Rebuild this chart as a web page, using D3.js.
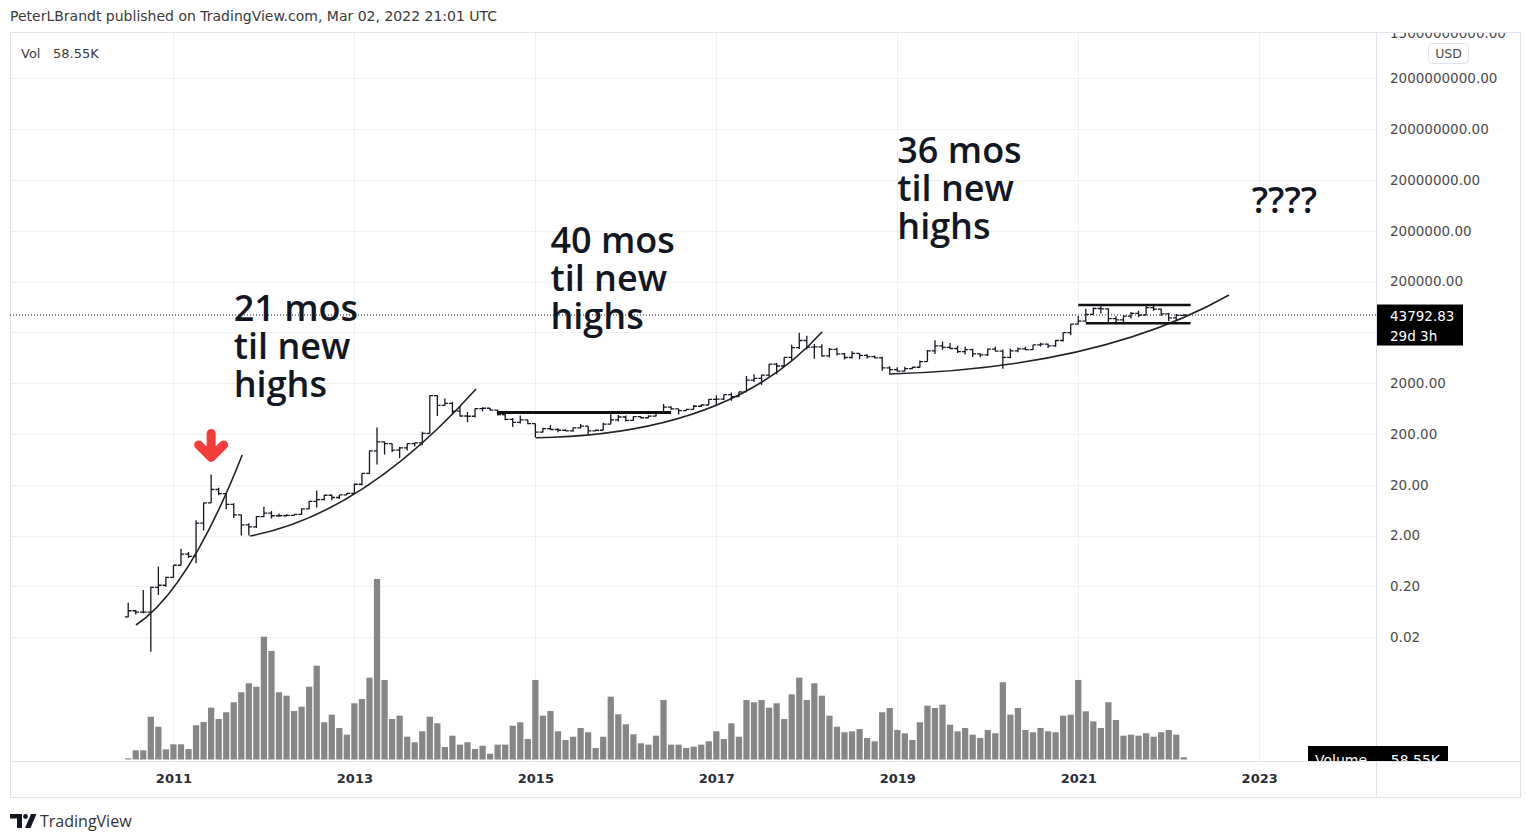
<!DOCTYPE html>
<html>
<head>
<meta charset="utf-8">
<script src="https://cdn.jsdelivr.net/npm/d3@7"></script>
<style>
  html, body { margin: 0; padding: 0; background: #fff; }
  svg { display: block; }
</style>
</head>
<body>
<svg id="chart" width="1526" height="838"></svg>
<script>
// monthly bars, index 0 = Jul 2010 ... index 140 = Mar 2022
const opens = [
  0.05, 0.066, 0.062, 0.062, 0.19, 0.21,
  0.30, 0.52, 0.86, 0.78, 3.5, 8.74, 16.1, 13.4, 8.2, 5.1, 3.25, 2.97,
  4.7, 5.5, 4.9, 4.9, 5.0, 5.2, 6.7, 9.4, 10.2, 12.4, 11.2, 12.6,
  13.5, 20.4, 33.4, 93, 139, 129, 96, 106, 129, 133, 204, 1130,
  730, 800, 560, 450, 445, 630, 640, 590, 480, 388, 338, 378,
  320, 217, 254, 244, 236, 230, 263, 284, 230, 236, 313, 377,
  430, 368, 437, 416, 448, 531, 673, 624, 575, 608, 700, 742,
  960, 970, 1190, 1080, 1350, 2300, 2480, 2870, 4730, 4340, 6450, 9950,
  13800, 10200, 10300, 6900, 9250, 7500, 6390, 7730, 7030, 6630, 6300, 4000,
  3700, 3450, 3850, 4100, 5300, 8600, 10800, 10100, 9600, 8300, 9150, 7550,
  7200, 9350, 8550, 6420, 8650, 9450, 9140, 11350, 11660, 10780, 13800, 19700,
  29000, 33100, 45200, 58800, 57700, 37300, 35000, 41500, 47100, 43800, 61300, 57000,
  46200, 38500, 43200
];
const highs = [
  0.095, 0.068, 0.17, 0.196, 0.49, 0.31,
  0.52, 1.10, 0.95, 4.0, 8.9, 31.9, 17.5, 13.9, 8.6, 5.2, 3.5, 4.8,
  7.4, 6.1, 5.4, 5.3, 5.2, 6.9, 9.7, 15.4, 12.5, 12.8, 12.6, 13.7,
  21.2, 33.5, 94, 266, 141, 130, 110, 130, 136, 220, 1150, 1160,
  1000, 860, 700, 540, 630, 670, 650, 600, 490, 410, 460, 380,
  320, 265, 300, 260, 246, 268, 315, 285, 245, 330, 500, 470,
  462, 446, 440, 467, 550, 780, 700, 627, 610, 740, 755, 975,
  1150, 1200, 1300, 1350, 2760, 2980, 2950, 4750, 4980, 6450, 11400, 19700,
  17200, 11800, 11700, 9800, 9950, 7800, 8500, 7760, 7400, 7000, 6600, 4300,
  4100, 4200, 4150, 5600, 9000, 13900, 13200, 12300, 10900, 10400, 9500, 7750,
  9600, 10500, 9200, 9450, 10070, 10400, 11440, 12470, 12080, 14100, 19900, 29300,
  41950, 58300, 61800, 64900, 59600, 41300, 42400, 50500, 52900, 67000, 69000, 59000,
  47900, 45800, 44900
];
const lows = [
  0.049, 0.056, 0.059, 0.0103, 0.135, 0.196,
  0.29, 0.52, 0.72, 0.57, 2.5, 8.7, 12.4, 6.6, 4.4, 2.0, 2.0, 2.8,
  4.6, 4.3, 4.7, 4.8, 4.9, 5.1, 6.6, 7.1, 9.8, 9.9, 10.5, 12.5,
  13.3, 19.6, 33, 50, 79, 88, 67, 94, 113, 120, 204, 450,
  720, 500, 440, 340, 420, 560, 570, 460, 370, 275, 320, 310,
  170, 212, 240, 215, 228, 220, 255, 200, 225, 235, 310, 350,
  350, 365, 400, 414, 440, 520, 600, 480, 565, 605, 680, 740,
  750, 930, 900, 1060, 1350, 2100, 1830, 2690, 2980, 4150, 5500, 9400,
  9200, 6000, 6600, 6400, 7000, 5800, 6100, 5880, 6100, 6200, 3500, 3150,
  3350, 3400, 3800, 4050, 5300, 7500, 9100, 9400, 7800, 7300, 6550, 6430,
  6850, 8450, 3850, 6150, 8100, 8900, 8970, 10550, 9820, 10370, 13200, 17600,
  28800, 32300, 44900, 47000, 30000, 28800, 29300, 37300, 39600, 43300, 53300, 42000,
  33000, 34300, 43000
];
const closes = [
  0.066, 0.062, 0.062, 0.19, 0.21, 0.30,
  0.52, 0.86, 0.78, 3.5, 8.74, 16.1, 13.4, 8.2, 5.1, 3.25, 2.97, 4.7,
  5.5, 4.9, 4.9, 5.0, 5.2, 6.7, 9.4, 10.2, 12.4, 11.2, 12.6, 13.5,
  20.4, 33.4, 93, 139, 129, 96, 106, 129, 133, 204, 1130, 730,
  800, 560, 450, 445, 630, 640, 590, 480, 388, 338, 378, 320,
  217, 254, 244, 236, 230, 263, 284, 230, 236, 313, 377, 430,
  368, 437, 416, 448, 531, 673, 624, 575, 608, 700, 742, 960,
  970, 1190, 1080, 1350, 2300, 2480, 2870, 4730, 4340, 6450, 9950, 13800,
  10200, 10300, 6900, 9250, 7500, 6390, 7730, 7030, 6630, 6300, 4000, 3700,
  3450, 3850, 4100, 5300, 8600, 10800, 10100, 9600, 8300, 9150, 7550, 7200,
  9350, 8550, 6420, 8650, 9450, 9140, 11350, 11660, 10780, 13800, 19700, 29000,
  33100, 45200, 58800, 57700, 37300, 35000, 41500, 47100, 43800, 61300, 57000, 46200,
  38500, 43200, 43792.83
];
// volume in thousands
const volumes = [
  32, 245, 245, 1138, 872, 271,
  404, 404, 279, 910, 998, 1378, 1077, 1256, 1522, 1788, 2027, 1936,
  3266, 2886, 1788, 1697, 1290, 1404, 1936, 2495, 990, 1192, 838, 660,
  1495, 1609, 2176, 4801, 2115, 1077, 1165, 606, 458, 750, 1138, 963,
  333, 633, 394, 458, 279, 367, 154, 394, 394, 899, 990, 545,
  2115, 1165, 1290, 750, 519, 606, 838, 724, 306, 606, 1670, 1202,
  936, 670, 431, 394, 633, 1583, 394, 394, 306, 340, 394, 484,
  750, 545, 963, 606, 1583, 1522, 1583, 1378, 1495, 1077, 1734, 2176,
  1583, 2027, 1697, 1165, 872, 724, 750, 811, 572, 484, 1256, 1370,
  785, 697, 519, 990, 1431, 1370, 1458, 926, 750, 838, 660, 572,
  785, 697, 2054, 1192, 1370, 785, 724, 838, 750, 724, 1165, 1192,
  2115, 1282, 1016, 838, 1522, 1051, 633, 660, 633, 697, 606, 724,
  785, 660, 58.55
];

const yearLabels = [2011, 2013, 2015, 2017, 2019, 2021, 2023];
const priceTicks = [0.02, 0.2, 2, 20, 200, 2000, 20000, 200000, 2000000, 20000000, 200000000, 2000000000];
const topCutTick = 15000000000;
const lastPrice = 43792.83;

// drawn annotations: [month index, price]
const arcs = [
  [[1.03, 0.0346], [8.06, 0.169], [15.12, 76.9]],
  [[16.15, 1.95], [31.17, 5.18], [46.13, 1531]],
  [[54.08, 168.3], [79.81, 190], [92.04, 20560]],
  [[100.9, 3020], [128.9, 3965], [146.0, 108400]]
];
const levels = [
  {from: 48.9, to: 72.0, price: 530, w: 3},
  {from: 126.0, to: 140.9, price: 69000, w: 2.5},
  {from: 127.0, to: 140.9, price: 30000, w: 2.5}
];
const notes = [
  {idx: 14, price: 33400, lines: ["21 mos", "til new", "highs"]},
  {idx: 56, price: 728000, lines: ["40 mos", "til new", "highs"]},
  {idx: 102, price: 4.3e7, lines: ["36 mos", "til new", "highs"]},
  {idx: 149, price: 4.46e6, lines: ["????"]}
];
const arrowMonth = 11; // Jun 2011 top

const PANE = {left: 10, right: 1376, top: 33, bottom: 761};
const FRAME = {left: 10, right: 1520, top: 32, bottom: 797};
const AXIS_FONT = "'DejaVu Sans', sans-serif";

const svg = d3.select("#chart");

const x = d3.scaleLinear().domain([0, 140]).range([128.2, 1183.8]);
const y = d3.scaleLog().domain([7.28e-5, 1.56e10]).range([PANE.bottom, PANE.top]);
const yVol = d3.scaleLinear().domain([0, 4800]).range([759.5, 579]);
const yearIdx = yr => (yr - 2010) * 12 - 6;

// header
svg.append("text")
  .attr("x", 10).attr("y", 21)
  .attr("font-family", AXIS_FONT).attr("font-size", "14px").attr("fill", "#3a3a3a")
  .text("PeterLBrandt published on TradingView.com, Mar 02, 2022 21:01 UTC");

// grid
const grid = svg.append("g").attr("stroke", "#eef0f4").attr("stroke-width", 1);
grid.selectAll("line.h").data(priceTicks).join("line")
  .attr("x1", PANE.left).attr("x2", PANE.right)
  .attr("y1", d => Math.round(y(d)) + 0.5).attr("y2", d => Math.round(y(d)) + 0.5);
grid.selectAll("line.v").data(yearLabels).join("line")
  .attr("x1", d => Math.round(x(yearIdx(d))) + 0.5).attr("x2", d => Math.round(x(yearIdx(d))) + 0.5)
  .attr("y1", PANE.top).attr("y2", PANE.bottom);

// frame
const frame = svg.append("g").attr("stroke", "#e0e3eb").attr("fill", "none");
frame.append("rect")
  .attr("x", FRAME.left + 0.5).attr("y", FRAME.top + 0.5)
  .attr("width", FRAME.right - FRAME.left).attr("height", FRAME.bottom - FRAME.top);
frame.append("line").attr("x1", PANE.right + 0.5).attr("x2", PANE.right + 0.5)
  .attr("y1", FRAME.top).attr("y2", FRAME.bottom);
frame.append("line").attr("x1", FRAME.left).attr("x2", FRAME.right)
  .attr("y1", PANE.bottom + 0.5).attr("y2", PANE.bottom + 0.5);

// volume
const barW = (x(1) - x(0)) * 0.83;
svg.append("g").selectAll("rect").data(volumes).join("rect")
  .attr("x", (d, i) => x(i) - barW / 2)
  .attr("y", d => yVol(d))
  .attr("width", barW)
  .attr("height", d => yVol(0) - yVol(d))
  .attr("fill", "#868686");

// OHLC bars
const tick = 3.3;
svg.append("g").attr("stroke", "#131722").attr("stroke-width", 1.3).attr("fill", "none")
  .selectAll("path").data(opens).join("path")
  .attr("d", (o, i) => {
    const cx = x(i);
    return `M${cx},${y(highs[i])}V${y(lows[i])}` +
      `M${cx - tick},${y(o)}H${cx}` +
      `M${cx},${y(closes[i])}H${cx + tick}`;
  });

// last price dotted line
svg.append("line")
  .attr("x1", PANE.left).attr("x2", PANE.right)
  .attr("y1", y(lastPrice)).attr("y2", y(lastPrice))
  .attr("stroke", "#131722").attr("stroke-width", 1).attr("stroke-dasharray", "1,2");

// arcs and levels
const ann = svg.append("g").attr("fill", "none").attr("stroke", "#222");
ann.selectAll("path").data(arcs).join("path")
  .attr("stroke-width", 1.6)
  .attr("d", a => {
    const p = a.map(([i, v]) => [x(i), y(v)]);
    return `M${p[0][0]},${p[0][1]}Q${p[1][0]},${p[1][1]} ${p[2][0]},${p[2][1]}`;
  });
ann.selectAll("line").data(levels).join("line")
  .attr("x1", d => x(d.from)).attr("x2", d => x(d.to))
  .attr("y1", d => y(d.price)).attr("y2", d => y(d.price))
  .attr("stroke", "#111").attr("stroke-width", d => d.w);

// red arrow above the 2011 top
const tipX = x(arrowMonth), tipY = y(highs[arrowMonth]) - 17;
svg.append("path")
  .attr("d", `M${tipX},${tipY - 24}V${tipY}M${tipX - 12.5},${tipY - 12.5}L${tipX},${tipY}L${tipX + 12.5},${tipY - 12.5}`)
  .attr("fill", "none").attr("stroke", "#f23d3a").attr("stroke-width", 9)
  .attr("stroke-linecap", "round").attr("stroke-linejoin", "round");

// text notes
notes.forEach(n => {
  const t = svg.append("text")
    .attr("x", x(n.idx)).attr("y", y(n.price))
    .attr("font-family", "'Open Sans', sans-serif").attr("font-weight", 600)
    .attr("font-size", "36px").attr("fill", "#131722");
  t.selectAll("tspan").data(n.lines).join("tspan")
    .attr("x", x(n.idx)).attr("dy", (d, i) => i === 0 ? 0 : 38)
    .text(d => d);
});

// price axis (the 20000 label sits under the last price badge, so it is left out)
const yAxis = svg.append("g")
  .attr("transform", `translate(${PANE.right},0)`)
  .call(d3.axisRight(y).tickValues(priceTicks.filter(d => d !== 20000)).tickSize(0).tickPadding(14)
    .tickFormat(d => d.toFixed(2)));
yAxis.select(".domain").remove();
yAxis.selectAll("text").attr("font-family", AXIS_FONT).attr("font-size", "13.5px").attr("fill", "#4a4a4a");

svg.append("clipPath").attr("id", "topClip").append("rect")
  .attr("x", PANE.right).attr("y", 33).attr("width", 150).attr("height", 20);
svg.append("text")
  .attr("clip-path", "url(#topClip)")
  .attr("x", PANE.right + 14).attr("y", y(topCutTick)).attr("dy", "0.32em")
  .attr("font-family", AXIS_FONT).attr("font-size", "13.5px").attr("fill", "#4a4a4a")
  .text(topCutTick.toFixed(2));

// USD badge
svg.append("rect").attr("x", 1428.5).attr("y", 43.5).attr("width", 40).attr("height", 20).attr("rx", 4)
  .attr("fill", "#fff").attr("stroke", "#e0e3eb");
svg.append("text").attr("x", 1448.5).attr("y", 53.5).attr("dy", "0.35em").attr("text-anchor", "middle")
  .attr("font-family", AXIS_FONT).attr("font-size", "12.5px").attr("fill", "#4a4a4a").text("USD");

// last price badge
const lpY = y(lastPrice);
svg.append("rect").attr("x", PANE.right + 1).attr("y", lpY - 10.5).attr("width", 86).attr("height", 41)
  .attr("fill", "#000");
svg.append("text").attr("x", PANE.right + 14).attr("y", lpY + 1).attr("dy", "0.35em")
  .attr("font-family", AXIS_FONT).attr("font-size", "13.5px").attr("fill", "#fff").text(lastPrice.toFixed(2));
svg.append("text").attr("x", PANE.right + 14).attr("y", lpY + 21).attr("dy", "0.35em")
  .attr("font-family", AXIS_FONT).attr("font-size", "13.5px").attr("fill", "#fff").text("29d 3h");

// volume badge, cut by the time axis
svg.append("clipPath").attr("id", "volClip").append("rect")
  .attr("x", 1300).attr("y", 740).attr("width", 160).attr("height", PANE.bottom - 740);
const vb = svg.append("g").attr("clip-path", "url(#volClip)");
vb.append("rect").attr("x", 1308).attr("y", 746).attr("width", 140).attr("height", 28).attr("fill", "#000");
vb.append("text").attr("x", 1315).attr("y", 760).attr("dy", "0.35em")
  .attr("font-family", AXIS_FONT).attr("font-size", "14px").attr("fill", "#fff").text("Volume");
vb.append("text").attr("x", 1440).attr("y", 760).attr("dy", "0.35em").attr("text-anchor", "end")
  .attr("font-family", AXIS_FONT).attr("font-size", "14px").attr("fill", "#fff")
  .text(d3.format(".2f")(volumes[volumes.length - 1]) + "K");

// legend
svg.append("text").attr("x", 21).attr("y", 53).attr("dy", "0.35em")
  .attr("font-family", AXIS_FONT).attr("font-size", "13px").attr("fill", "#3a3a3a")
  .text("Vol");
svg.append("text").attr("x", 53).attr("y", 53).attr("dy", "0.35em")
  .attr("font-family", AXIS_FONT).attr("font-size", "13px").attr("fill", "#3a3a3a")
  .text(d3.format(".2f")(volumes[volumes.length - 1]) + "K");

// time axis
const xAxis = svg.append("g")
  .attr("transform", `translate(0,${PANE.bottom})`)
  .call(d3.axisBottom(x).tickValues(yearLabels.map(yearIdx)).tickSize(0).tickPadding(13)
    .tickFormat((d, i) => yearLabels[i]));
xAxis.select(".domain").remove();
xAxis.selectAll("text").attr("font-family", AXIS_FONT).attr("font-weight", "bold")
  .attr("font-size", "13px").attr("fill", "#2a2e39");

// footer logo
const logo = svg.append("g").attr("fill", "#131722");
logo.append("path").attr("d", "M10,814H22V828H17V818.5H10Z");
logo.append("circle").attr("cx", 25.5).attr("cy", 816.5).attr("r", 2.4);
logo.append("path").attr("d", "M31,814H36.5L30.5,828H25Z");
svg.append("text").attr("x", 40).attr("y", 827)
  .attr("font-family", "'Open Sans', sans-serif").attr("font-size", "16px").attr("fill", "#333")
  .text("TradingView");
</script>
</body>
</html>
